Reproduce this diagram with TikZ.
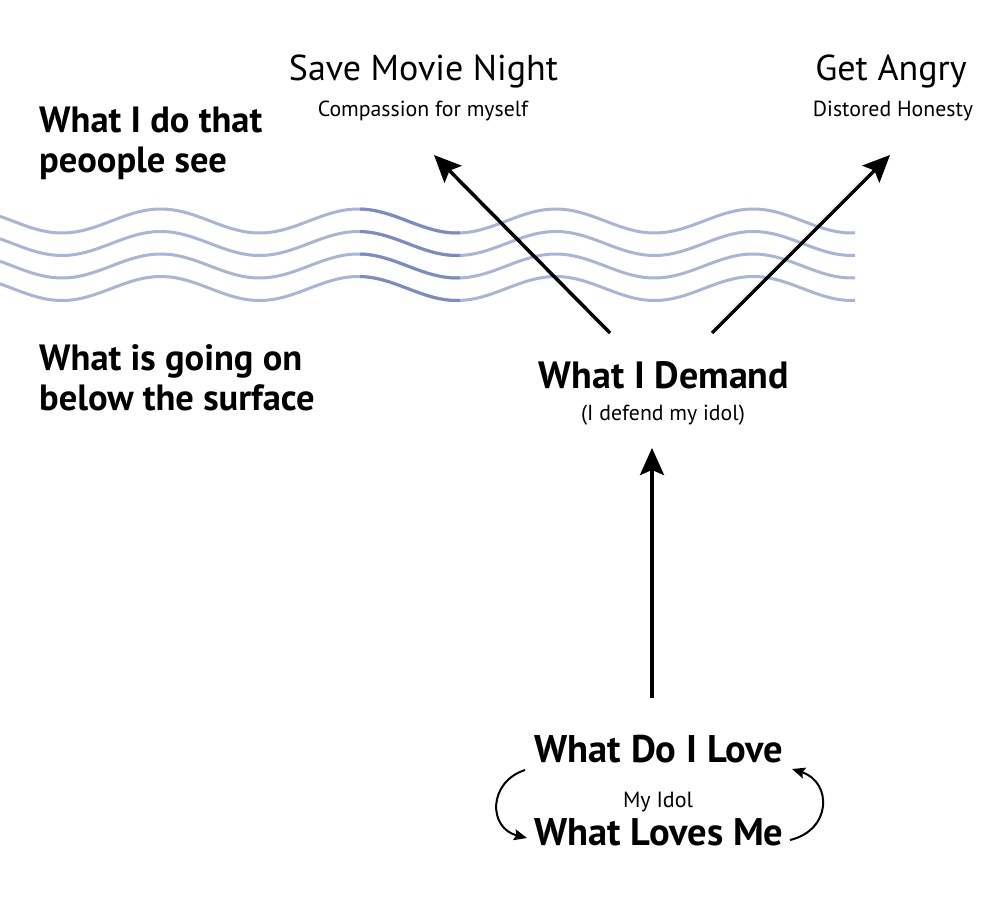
\documentclass[tikz,border=0pt]{standalone}
\usepackage{fontspec}
\setmainfont{PT Sans}
\usetikzlibrary{arrows.meta}
\definecolor{wavelight}{HTML}{A8B4DA}
\definecolor{wavedark}{HTML}{7A8BC5}
\tikzset{
  big/.style={font=\fontsize{36}{42}\selectfont, inner sep=0pt},
  bigb/.style={font=\fontsize{36.5}{42}\selectfont\bfseries, inner sep=0pt},
  bigbb/.style={font=\fontsize{38.5}{44}\selectfont\bfseries, inner sep=0pt},
  small/.style={font=\fontsize{21.8}{26}\selectfont, inner sep=0pt},
  wave/.style={draw=wavelight, line width=3pt},
  wavedk/.style={draw=wavedark, line width=3pt},
  bigarrow/.style={line width=3.5pt, -{Stealth[length=27pt,width=24pt,inset=5pt]}},
  loop/.style={line width=2pt, -{Stealth[length=13pt,width=11pt,inset=2pt]}},
}
\begin{document}
\begin{tikzpicture}[x=1pt,y=-1pt]
\useasboundingbox (0,0) rectangle (984,904);
% waves
\foreach \c in {221,243.5,266,288.5}{
  \draw[wave] plot[domain=0:855,samples=240] (\x,{\c-12*cos(1.82278*(\x-160.75))});
  \draw[wavedk] plot[domain=360:460,samples=40] (\x,{\c-12*cos(1.82278*(\x-160.75))});
}
% texts
\node[big,anchor=base] (smn) at (423.5,81) {Save Movie Night};
\node[small,anchor=base] (comp) at (423,117) {Compassion for myself};
\node[big,anchor=base] (angry) at (891,81) {Get Angry};
\node[small,anchor=base] (dist) at (893,117) {Distored Honesty};
\node[bigb,anchor=base west] (see1) at (39,133) {What I do that};
\node[bigb,anchor=base west] (see2) at (39,173) {peoople see};
\node[bigb,anchor=base west] (below1) at (39,370) {What is going on};
\node[bigb,anchor=base west] (below2) at (39,410) {below the surface};
\node[bigb,anchor=base,font=\fontsize{38}{42}\selectfont\bfseries] (demand) at (664,388) {What I Demand};
\node[small,anchor=base] (defend) at (663,420) {(I defend my idol)};
\node[bigbb,anchor=base] (love) at (659,762) {What Do I Love};
\node[small,anchor=base,font=\fontsize{22}{26}\selectfont] (idol) at (658,807) {My Idol};
\node[bigbb,anchor=base] (loves) at (659,845) {What Loves Me};
% arrow ends
\coordinate (dL) at (610,333);
\coordinate (dR) at (712,333);
\coordinate (tL) at (434,155);
\coordinate (tR) at (890,155);
\coordinate (vB) at (652,698);
\coordinate (vT) at (652,448);
\draw[bigarrow] (dL) -- (tL);
\draw[bigarrow] (dR) -- (tR);
\draw[bigarrow] (vB) -- (vT);
% loop arrows
\coordinate (l1) at (525,770);
\coordinate (l2) at (527,838);
\coordinate (r1) at (790,840);
\coordinate (r2) at (792,769);
\draw[loop] (l1) .. controls (488,782) and (488,828) .. (l2);
\draw[loop] (r1) .. controls (832,830) and (832,782) .. (r2);
\end{tikzpicture}
\end{document}
